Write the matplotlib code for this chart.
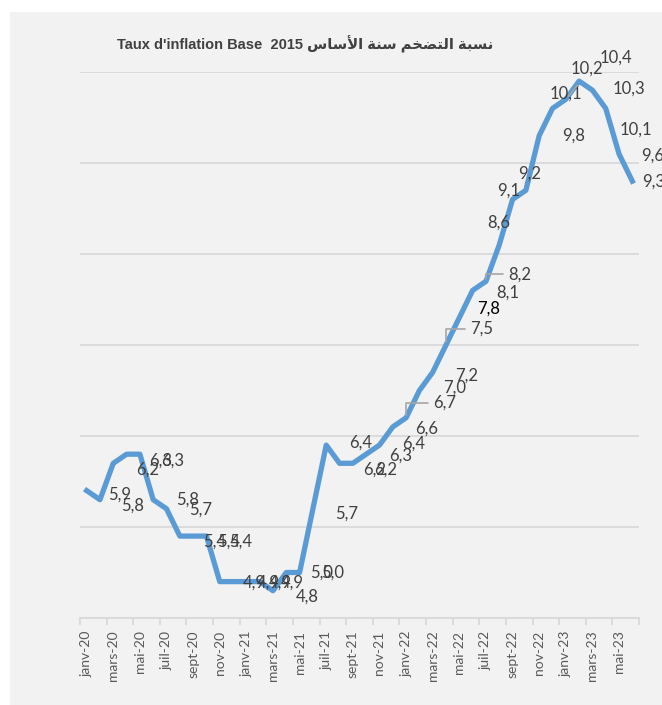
import matplotlib.pyplot as plt
from matplotlib.patches import Rectangle
import numpy as np

# data
month_names = ['janv', 'févr', 'mars', 'avr', 'mai', 'juin',
               'juil', 'août', 'sept', 'oct', 'nov', 'déc']
years = ['20', '21', '22', '23']
categories = [f"{m}-{y}" for y in years for m in month_names][:42]

inflation = [5.9, 5.8, 6.2, 6.3, 6.3, 5.8, 5.7, 5.4, 5.4, 5.4, 4.9, 4.9,
             4.9, 4.9, 4.8, 5.0, 5.0, 5.7, 6.4, 6.2, 6.2, 6.3, 6.4, 6.6,
             6.7, 7.0, 7.2, 7.5, 7.8, 8.1, 8.2, 8.6, 9.1, 9.2, 9.8, 10.1,
             10.2, 10.4, 10.3, 10.1, 9.6, 9.3]

title_fr = "Taux d'inflation Base  2015 "
# arabic title, pre-shaped presentation forms in visual order
title_ar = ("\uFEB1\uFE8E\uFEB3\uFEF7\uFE8D \uFE94\uFEE8\uFEB3 "
            "\uFEE2\uFEA8\uFEC0\uFE98\uFEDF\uFE8D \uFE94\uFE92\uFEB4\uFEE7")

# label placement (pixels right, pixels down) - hand placed like the excel chart
label_off = [(33, 4), (33, 6), (34, 6), (34, 6), (33, 6), (34, 0), (34, 1),
             (35, 6), (35, 6), (34, 6), (35, 1), (35, 1), (34, 1), (33, 1),
             (34, 6), (35, 0), (33, 0), (34, 5), (34, -2), (35, 6), (33, 6),
             (34, 1), (34, -1), (34, 2), (39, -15), (35, -3), (34, 3), (36, -16),
             (29, -9), (35, 2), (34, -7), (0, -22), (-4, -9), (4, -17), (34, 0),
             (13, -15), (21, -31), (37, -23), (36, -2), (30, 21), (34, 2), (21, 0)]
leaders = [24, 27, 30]

W, H = 662, 705
fig = plt.figure(figsize=(W / 100, H / 100), dpi=100)
fig.patch.set_facecolor('white')
fig.patches.append(Rectangle((10 / W, 0), 1, 1 - 12 / H, transform=fig.transFigure,
                             facecolor='#F2F2F2', edgecolor='none', zorder=-10))

ax = fig.add_axes([80 / W, 1 - 618 / H, (639 - 80) / W, (618 - 72) / H])
ax.set_facecolor('none')

x = np.arange(len(inflation))
ax.plot(x, inflation, color='#5B9BD5', lw=3.8, solid_joinstyle='round', zorder=3)

ax.set_xlim(-0.5, len(inflation) - 0.5)
ax.set_ylim(4.5, 10.5)
ax.set_yticks(np.arange(4.5, 10.6, 1.0))
ax.yaxis.grid(True, color='#D9D9D9', lw=1.3)
ax.tick_params(axis='y', length=0, labelleft=False)
ax.set_axisbelow(True)

ax.set_xticks(x[::2])
ax.set_xticklabels(categories[::2], rotation=90, fontsize=10,
                   color='#595959', family='Lato')
ax.set_xticks(np.arange(-0.5, len(inflation), 2), minor=True)
ax.tick_params(axis='x', which='major', length=0, pad=9)
ax.tick_params(axis='x', which='minor', length=5, color='#D9D9D9', width=1.3)

for s in ['top', 'left', 'right']:
    ax.spines[s].set_visible(False)
ax.spines['bottom'].set_color('#D9D9D9')
ax.spines['bottom'].set_linewidth(1.3)

for i, v in enumerate(inflation):
    dx, dy = label_off[i]
    txt = f"{v:.1f}".replace('.', ',')
    col = '#000000' if i == 28 else '#404040'
    kw = {}
    if i in leaders:
        kw['arrowprops'] = dict(arrowstyle='-', color='#A6A6A6', lw=1.2,
                                relpos=(0, 0.5), shrinkA=2, shrinkB=2,
                                connectionstyle='angle,angleA=0,angleB=90,rad=0')
    if i == 36:
        kw['arrowprops'] = dict(arrowstyle='-', color='#A6A6A6', lw=1.2,
                                relpos=(0.45, 0), shrinkA=6, shrinkB=3)
    ax.annotate(txt, (i, v), xytext=(dx, -dy), textcoords='offset pixels',
                ha='center', va='center', fontsize=12, color=col,
                family='Lato', annotation_clip=False, zorder=4, **kw)

fig.text(305 / W, 1 - 44 / H, title_fr + title_ar, ha='center', va='center',
         fontsize=10.5, fontweight='bold', color='#404040',
         family=['Liberation Sans', 'DejaVu Sans'])

fig.savefig('out.png', dpi=100)
